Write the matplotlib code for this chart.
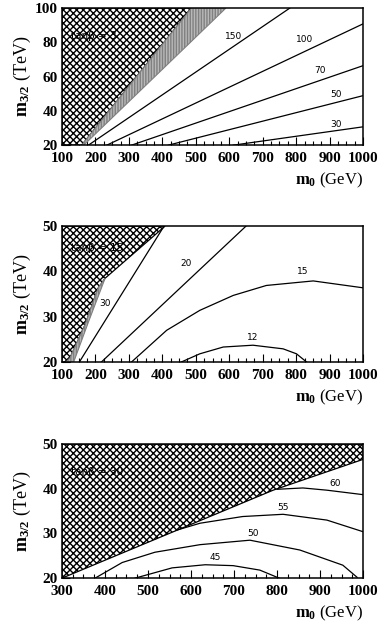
import matplotlib
matplotlib.use("Agg")
import matplotlib.pyplot as plt
from matplotlib.ticker import MultipleLocator

plt.rcParams['font.family'] = ['Liberation Serif', 'DejaVu Serif']
plt.rcParams['font.weight'] = 'bold'
plt.rcParams['mathtext.fontset'] = 'custom'
plt.rcParams['mathtext.rm'] = 'Liberation Serif:bold'
plt.rcParams['mathtext.it'] = 'Liberation Serif:bold'
plt.rcParams['mathtext.bf'] = 'Liberation Serif:bold'
plt.rcParams['hatch.linewidth'] = 1.0

# ---- panel 1: tan(beta) = 3 ----
p1_hatch_x = [100, 159, 487, 100]
p1_hatch_y = [20, 20, 100, 100]
p1_band_x = [159, 165, 590, 487]
p1_band_y = [20, 20, 100, 100]
p1_levels = ['150', '100', '70', '50', '30']
p1_curves_x = [[179, 781], [234, 1000], [308, 1000], [418, 1000], [612, 1000]]
p1_curves_y = [[20, 100], [20, 90.8], [20, 66.4], [20, 48.9], [20, 30.7]]
p1_label_x = [612, 826, 870, 920, 920]
p1_label_y = [83.4, 81.9, 63.3, 49.7, 32.3]

# ---- panel 2: tan(beta) = 15 ----
p2_hatch_x = [100, 112, 124, 169, 208, 229, 408, 100]
p2_hatch_y = [20, 20, 20.9, 28.2, 36.3, 38.5, 50, 50]
p2_band_x = [112, 124, 169, 208, 229, 180, 135]
p2_band_y = [20, 20.9, 28.2, 36.3, 38.5, 29, 20]
p2_levels = ['30', '20', '15', '12']
p2_curves_x = [[152, 405],
               [218, 650],
               [308, 413, 512, 612, 711, 851, 998],
               [457, 512, 582, 671, 761, 801, 831]]
p2_curves_y = [[20, 50],
               [20, 50],
               [20, 27.0, 31.4, 34.7, 36.9, 37.9, 36.4],
               [20, 21.8, 23.3, 23.7, 22.9, 21.8, 20]]
p2_label_x = [229, 472, 821, 671]
p2_label_y = [33.0, 41.7, 39.9, 25.5]

# ---- panel 3: tan(beta) = 30 ----
p3_hatch_x = [300, 300, 579, 791, 1000, 1000, 300]
p3_hatch_y = [19.5, 20.0, 31.2, 39.7, 46.6, 50, 50]
p3_levels = ['60', '55', '50', '45']
p3_curves_x = [[800, 860, 916, 1000],
               [565, 621, 720, 814, 916, 1000],
               [377, 440, 516, 621, 737, 853, 953, 986],
               [470, 556, 633, 698, 760, 805]]
p3_curves_y = [[39.9, 40.2, 39.7, 38.7],
               [30.7, 32.3, 33.8, 34.3, 33.0, 30.4],
               [20, 23.5, 25.8, 27.5, 28.5, 26.3, 22.9, 20.2],
               [20, 22.3, 23.0, 22.8, 21.8, 20]]
p3_label_x = [935, 814, 744, 656]
p3_label_y = [41.3, 35.9, 30.1, 24.7]

panels = [
    dict(rect=[0.161, 0.767, 0.782, 0.220], xlim=(100, 1000), ylim=(20, 100),
         yticks=[20, 40, 60, 80, 100], yminor=5, title='tanβ = 3', tpos=(128, 84),
         hx=p1_hatch_x, hy=p1_hatch_y, bx=p1_band_x, by=p1_band_y,
         cx=p1_curves_x, cy=p1_curves_y, lev=p1_levels, lx=p1_label_x, ly=p1_label_y),
    dict(rect=[0.161, 0.419, 0.782, 0.218], xlim=(100, 1000), ylim=(20, 50),
         yticks=[20, 30, 40, 50], yminor=2, title='tanβ = 15', tpos=(128, 45.1),
         hx=p2_hatch_x, hy=p2_hatch_y, bx=p2_band_x, by=p2_band_y,
         cx=p2_curves_x, cy=p2_curves_y, lev=p2_levels, lx=p2_label_x, ly=p2_label_y),
    dict(rect=[0.161, 0.072, 0.782, 0.215], xlim=(300, 1000), ylim=(20, 50),
         yticks=[20, 30, 40, 50], yminor=2, title='tanβ = 30', tpos=(320, 43.7),
         hx=p3_hatch_x, hy=p3_hatch_y, bx=None, by=None,
         cx=p3_curves_x, cy=p3_curves_y, lev=p3_levels, lx=p3_label_x, ly=p3_label_y),
]

fig = plt.figure(figsize=(3.85, 6.23), dpi=100)

for p in panels:
    ax = fig.add_axes(p['rect'])
    ax.set_xlim(*p['xlim'])
    ax.set_ylim(*p['ylim'])

    # excluded regions
    ax.fill(p['hx'], p['hy'], facecolor='white', edgecolor='black',
            hatch='xxxxx', linewidth=0.9, zorder=2)
    if p['bx'] is not None:
        ax.fill(p['bx'], p['by'], facecolor='0.72', edgecolor='0.5',
                hatch='||||||', linewidth=0.8, zorder=2)

    # contour lines and their labels
    for xs, ys, lev, tx, ty in zip(p['cx'], p['cy'], p['lev'], p['lx'], p['ly']):
        ax.plot(xs, ys, color='black', lw=0.9, zorder=3)
        ax.text(tx, ty, lev, family='DejaVu Sans', fontweight='normal',
                fontsize=6.5, ha='center', va='center', zorder=4)

    ax.text(p['tpos'][0], p['tpos'][1], p['title'], family='DejaVu Sans',
            fontweight='normal', fontsize=7.5, ha='left', va='center', zorder=4)

    ax.set_xticks(range(p['xlim'][0], 1001, 100))
    ax.xaxis.set_minor_locator(MultipleLocator(25))
    ax.set_yticks(p['yticks'])
    ax.yaxis.set_minor_locator(MultipleLocator(p['yminor']))
    ax.tick_params(which='both', direction='in', top=False, right=False,
                   labelsize=11, width=0.8)
    ax.tick_params(axis='x', which='major', length=6, pad=5)
    ax.tick_params(axis='y', which='major', length=6, pad=3)
    ax.tick_params(which='minor', length=3)
    for s in ax.spines.values():
        s.set_linewidth(1.1)

    ax.set_ylabel(r'$\mathrm{m}_{3/2}$ (TeV)', fontsize=13)
    ax.yaxis.set_label_coords(-0.095, 0.5)
    ax.set_xlabel(r'$\mathrm{m}_{0}$ (GeV)', fontsize=12)
    ax.xaxis.set_label_coords(1.0, -0.19)
    ax.xaxis.label.set_ha('right')

fig.savefig('out.png', dpi=100)
